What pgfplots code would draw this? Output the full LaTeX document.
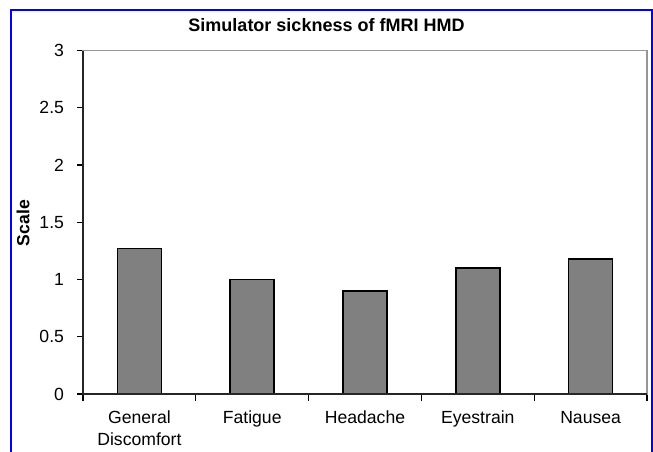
\documentclass[border=0pt]{standalone}
\usepackage{pgfplots}
\pgfplotsset{compat=1.18}
\usepackage{fontspec}
\setmainfont{Liberation Sans}
\definecolor{barfill}{RGB}{128,128,128}
\definecolor{framegray}{RGB}{150,150,150}
\begin{document}
\begin{tikzpicture}
\useasboundingbox (0,0) rectangle (326.5pt,-225.5pt);
\begin{axis}[
  at={(41.5pt,-197pt)}, anchor=south west,
  scale only axis, width=282pt, height=171.75pt,
  xmin=0, xmax=5, ymin=0, ymax=3,
  ytick={0,0.5,...,3},
  xtick={0.5,1.5,2.5,3.5,4.5},
  xticklabels={{General\\Discomfort},Fatigue,Headache,Eyestrain,Nausea},
  minor xtick={0,1,2,3,4,5},
  major x tick style={draw=none},
  minor tick length=3.5pt,
  major tick length=3pt,
  tick align=outside,
  xtick pos=bottom, ytick pos=left,
  tick style={black, line width=0.6pt},
  axis line style={framegray, line width=0.8pt},
  /pgf/number format/assume math mode=true,
  ticklabel style={font=\fontsize{8.8}{11}\selectfont, text=black},
  xticklabel style={align=center, yshift=-2pt},
  yticklabel style={xshift=-3pt},
  yticklabel={\pgfmathprintnumber[fixed,precision=1]{\tick}},
  clip=false,
]
\addplot[ybar, bar width=0.39, fill=barfill, draw=black, line width=0.75pt] coordinates {
  (0.5,1.27) (1.5,1.0) (2.5,0.9) (3.5,1.1) (4.5,1.18)
};
\draw[black!85, line width=0.7pt] (rel axis cs:0,1) -- (rel axis cs:0,0) -- (rel axis cs:1,0);
\end{axis}
\node[font=\bfseries\fontsize{9}{11}\selectfont, text=black] at (163.25pt,-12.75pt) {Simulator sickness of fMRI HMD};
\node[font=\bfseries\fontsize{8.8}{11}\selectfont, text=black, rotate=90] at (11.5pt,-111.5pt) {Scale};
\draw[blue, line width=1pt] (5.5pt,-226pt) -- (5.5pt,-5pt) -- (326pt,-5pt) -- (326pt,-226pt);
\end{tikzpicture}
\end{document}
